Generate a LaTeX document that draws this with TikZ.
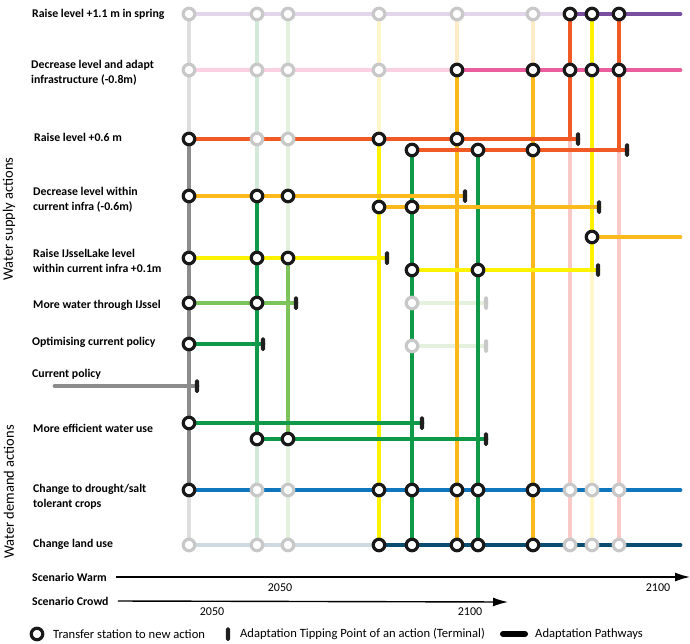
\documentclass[tikz,border=0pt]{standalone}
\usepackage{fontspec}
\setmainfont{Carlito}
\usetikzlibrary{arrows.meta}

\definecolor{cGray}{HTML}{8C8C8C}
\definecolor{cRed}{HTML}{F15A24}
\definecolor{cOrange}{HTML}{FBB91B}
\definecolor{cYellow}{HTML}{FFF200}
\definecolor{cGreen}{HTML}{0E9A48}
\definecolor{cLightGreen}{HTML}{7CC35C}
\definecolor{cBlue}{HTML}{0F75BD}
\definecolor{cDarkBlue}{HTML}{0B4D70}
\definecolor{cPurple}{HTML}{7B4FA0}
\definecolor{cPink}{HTML}{EA5E9E}
\definecolor{pGray}{HTML}{DEDEDE}
\definecolor{pGreenA}{HTML}{D3E9D9}
\definecolor{pGreenB}{HTML}{E3F1DD}
\definecolor{pYellow}{HTML}{FFF6CC}
\definecolor{pOrange}{HTML}{FDEAC6}
\definecolor{pRed}{HTML}{F8C9C6}
\definecolor{pLavender}{HTML}{E3D6EA}
\definecolor{pPink}{HTML}{F9D1E3}
\definecolor{pBlue}{HTML}{CDDAE1}
\definecolor{ghostGray}{HTML}{C8C8C8}

\begin{document}
\begin{tikzpicture}[x=1pt,y=-1pt,
  route/.style={line width=4.8pt,line cap=round},
  station/.style={circle,draw=black!90,fill=white,line width=3.2pt,minimum size=11.5pt,inner sep=0pt},
  ghost/.style={station,draw=ghostGray},
  tip/.style={fill=black!88,rounded corners=1.6pt,minimum width=4.2pt,minimum height=13.5pt,inner sep=0pt},
  ghosttip/.style={tip,fill=ghostGray},
  action/.style={anchor=west,inner sep=0pt,font=\bfseries\fontsize{11.8}{15}\selectfont,align=left},
  axis/.style={line width=1.4pt,-{Latex[length=15pt,width=9pt]}},
  year/.style={font=\fontsize{12}{14}\selectfont},
  legend/.style={anchor=west,inner sep=0pt,font=\fontsize{12.6}{14}\selectfont}]
\useasboundingbox (0,0) rectangle (690,643);

% columns and rows
\coordinate (cA) at (189,0); \coordinate (cB) at (257,0); \coordinate (cC) at (288,0);
\coordinate (cD) at (379,0); \coordinate (cE) at (412,0); \coordinate (cF) at (457,0);
\coordinate (cG) at (478,0); \coordinate (cH) at (533,0); \coordinate (cI) at (570,0);
\coordinate (cJ) at (592,0); \coordinate (cK) at (619,0); \coordinate (cEnd) at (680,0);
\coordinate (rA) at (0,14);  \coordinate (rB) at (0,70);
\coordinate (rC) at (0,139); \coordinate (rC2) at (0,150);
\coordinate (rD) at (0,196); \coordinate (rD2) at (0,207); \coordinate (rD3) at (0,237);
\coordinate (rE) at (0,258); \coordinate (rE2) at (0,270);
\coordinate (rF) at (0,303); \coordinate (rG) at (0,344); \coordinate (rH) at (0,386);
\coordinate (rI) at (0,423); \coordinate (rI2) at (0,439);
\coordinate (rJ) at (0,490); \coordinate (rK) at (0,545);
% tipping points
\coordinate (tC) at (578,139); \coordinate (tC2) at (627,150);
\coordinate (tD) at (465,196); \coordinate (tD2) at (599,207);
\coordinate (tE) at (387,258); \coordinate (tE2) at (598,270);
\coordinate (tF) at (296,303); \coordinate (tG) at (263,344);
\coordinate (tH) at (197,386); \coordinate (hStart) at (55,386);
\coordinate (tI) at (422,423); \coordinate (tI2) at (486,439);
\coordinate (gF) at (486,303); \coordinate (gG) at (486,346);

% faded lines
\draw[route,pGray] (cA|-rA) -- (cA|-rC) (cA|-rJ) -- (cA|-rK);
\draw[route,pGreenA] (cB|-rA) -- (cB|-rD) (cB|-rI2) -- (cB|-rK);
\draw[route,pGreenB] (cC|-rA) -- (cC|-rE) (cC|-rI2) -- (cC|-rK);
\draw[route,pYellow] (cD|-rA) -- (cD|-rC) (cJ|-rE2) -- (cJ|-rK);
\draw[route,pOrange] (cF|-rA) -- (cF|-rB) (cH|-rA) -- (cH|-rB);
\draw[route,pRed] (cI|-rC) -- (cI|-rK) (cK|-rC2) -- (cK|-rK);
\draw[route,pLavender] (cA|-rA) -- (cI|-rA);
\draw[route,pPink] (cA|-rB) -- (cF|-rB);
\draw[route,pBlue] (cA|-rK) -- (cD|-rK);
\draw[route,pGreenB] (cE|-rF) -- (gF) (cE|-gG) -- (gG);

% vertical routes
\draw[route,cGray] (cA|-rC) -- (cA|-rJ);
\draw[route,cGreen] (cB|-rD) -- (cB|-rI2);
\draw[route,cLightGreen] (cC|-rE) -- (cC|-rI2);
\draw[route,cYellow] (cD|-rC) -- (cD|-rK);
\draw[route,cGreen] (cE|-rC2) -- (cE|-rK) (cG|-rC2) -- (cG|-rK);
\draw[route,cOrange] (cF|-rB) -- (cF|-rK) (cH|-rB) -- (cH|-rK);
\draw[route,cRed] (cI|-rA) -- (cI|-rC) (cK|-rA) -- (cK|-rC2);
\draw[route,cYellow] (cJ|-rA) -- (cJ|-rE2);

% horizontal routes
\draw[route,cPurple] (cI|-rA) -- (cEnd|-rA);
\draw[route,cPink] (cF|-rB) -- (cEnd|-rB);
\draw[route,cRed] (cA|-rC) -- (tC);
\draw[route,cRed] (cE|-rC2) -- (tC2);
\draw[route,cOrange] (cA|-rD) -- (tD);
\draw[route,cOrange] (cD|-rD2) -- (tD2);
\draw[route,cOrange] (cJ|-rD3) -- (cEnd|-rD3);
\draw[route,cYellow] (cA|-rE) -- (tE);
\draw[route,cYellow] (cE|-rE2) -- (tE2);
\draw[route,cLightGreen] (cA|-rF) -- (tF);
\draw[route,cGreen] (cA|-rG) -- (tG);
\draw[route,cGray] (hStart) -- (tH);
\draw[route,cGreen] (cA|-rI) -- (tI);
\draw[route,cGreen] (cB|-rI2) -- (tI2);
\draw[route,cBlue] (cA|-rJ) -- (cEnd|-rJ);
\draw[route,cDarkBlue] (cD|-rK) -- (cEnd|-rK);

% stations
\foreach \c/\r in {cA/rA,cB/rA,cC/rA,cD/rA,cF/rA,cH/rA, cA/rB,cB/rB,cC/rB,cD/rB, cB/rC,cC/rC,
  cE/rF,cE/gG, cB/rJ,cC/rJ,cI/rJ,cJ/rJ,cK/rJ, cA/rK,cB/rK,cC/rK,cI/rK,cJ/rK,cK/rK}
  \node[ghost] (g-\c-\r) at (\c|-\r) {};
\foreach \c/\r in {cI/rA,cJ/rA,cK/rA, cF/rB,cH/rB,cI/rB,cJ/rB,cK/rB, cA/rC,cD/rC,cF/rC,
  cE/rC2,cG/rC2,cH/rC2, cA/rD,cB/rD,cC/rD, cD/rD2,cE/rD2, cJ/rD3, cA/rE,cB/rE,cC/rE,
  cE/rE2,cG/rE2, cA/rF,cB/rF, cA/rG, cA/rI, cB/rI2,cC/rI2,
  cA/rJ,cD/rJ,cE/rJ,cF/rJ,cG/rJ,cH/rJ, cD/rK,cE/rK,cF/rK,cG/rK,cH/rK}
  \node[station] (s-\c-\r) at (\c|-\r) {};
\foreach \t in {tC,tC2,tD,tD2,tE,tE2,tF,tG,tH,tI,tI2}
  \node[tip] (n-\t) at (\t) {};
\node[ghosttip] (n-gF) at (gF) {};
\node[ghosttip] (n-gG) at (gG) {};

% action labels
\node[action] (aA) at (32,14) {Raise level +1.1 m in spring};
\node[action] (aB) at (31,72.5) {Decrease level and adapt\\infrastructure (-0.8m)};
\node[action] (aC) at (34,137) {Raise level +0.6 m};
\node[action] (aD) at (33,199.5) {Decrease level within\\current infra (-0.6m)};
\node[action] (aE) at (33,260.5) {Raise IJsselLake level\\within current infra +0.1m};
\node[action] (aF) at (33,305) {More water through IJssel};
\node[action] (aG) at (32,342) {Optimising current policy};
\node[action] (aH) at (32,374) {Current policy};
\node[action] (aI) at (33,428) {More efficient water use};
\node[action] (aJ) at (33,496.5) {Change to drought/salt\\tolerant crops};
\node[action] (aK) at (33,544) {Change land use};
\node[rotate=90,inner sep=0pt,font=\fontsize{14.5}{16}\selectfont] (supply) at (9,219) {Water supply actions};
\node[rotate=90,inner sep=0pt,font=\fontsize{14.5}{16}\selectfont] (demand) at (9,492) {Water demand actions};

% scenarios
\node[action] (warm) at (32,577) {Scenario Warm};
\node[action] (crowd) at (32,601) {Scenario Crowd};
\coordinate (warmEnd) at (690,577);
\coordinate (crowdEnd) at (508,602);
\draw[axis] ([xshift=9pt]warm.east) -- (warmEnd);
\draw[axis] ([xshift=9pt]crowd.east) -- (crowdEnd);
\node[year] (w2050) at (280,588) {2050};
\node[year] (w2100) at (658,588) {2100};
\node[year] (c2050) at (212,612) {2050};
\node[year] (c2100) at (470,612) {2100};

% legend
\node[station] (lStation) at (37,634) {};
\node[legend] (lStationText) at (53,634) {Transfer station to new action};
\node[tip] (lTip) at (228,634) {};
\node[legend] (lTipText) at (240,634) {Adaptation Tipping Point of an action (Terminal)};
\draw[line width=6pt,line cap=round] (503,634) -- (525,634);
\node[legend] (lPathText) at (535,634) {Adaptation Pathways};
\end{tikzpicture}
\end{document}
